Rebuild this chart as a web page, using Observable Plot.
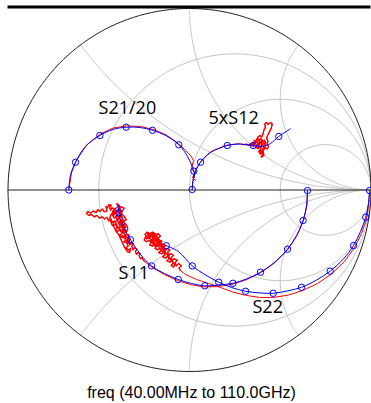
<!DOCTYPE html>
<html><head><meta charset="utf-8">
<script src="https://cdn.jsdelivr.net/npm/d3@7"></script>
<script src="https://cdn.jsdelivr.net/npm/@observablehq/plot@0.6"></script>
<style>body{margin:0;background:#fff}</style>
</head><body><div id="chart"></div>
<script>
// ---- Smith chart grid values ----
const rGrid = [1/3, 1, 3];
const xGrid = [0.5, 1, 2, -0.5, -1, -2];

// ---- S21/20 (model, measured) as [Re, Im] ----
const s21Model = [[-0.665,0.000],[-0.656,0.080],[-0.628,0.153],[-0.573,0.240],[-0.494,0.300],[-0.424,0.333],[-0.349,0.346],[-0.270,0.344],[-0.204,0.329],[-0.127,0.298],[-0.059,0.249],[-0.011,0.185],[0.024,0.104],[0.028,0.069]];
const s21Marks = [0,2,4,6,8,10,12];
const s21Meas = [[-0.663,0.010],[-0.650,0.096],[-0.623,0.163],[-0.567,0.248],[-0.490,0.309],[-0.419,0.342],[-0.347,0.353],[-0.270,0.350],[-0.198,0.333],[-0.127,0.303],[-0.061,0.256],[-0.022,0.218],[0.006,0.190],[0.022,0.163],[0.011,0.118],[0.028,0.096],[0.017,0.069],[0.033,0.052]];

// ---- 5 x S12 ----
const s12Model = [[0.015,0.003],[0.019,0.052],[0.033,0.107],[0.061,0.153],[0.116,0.207],[0.208,0.245],[0.281,0.253],[0.351,0.245],[0.402,0.240],[0.446,0.256],[0.492,0.295],[0.556,0.337]];
const s12Marks = [0,3,5,7,10];
const s12Meas = [[0.015,0.003],[0.020,0.055],[0.035,0.110],[0.062,0.157],[0.115,0.210],[0.205,0.247],[0.27,0.255],
 [0.30,0.250],[0.315,0.252],[0.325,0.245],[0.335,0.255],[0.34,0.243],[0.348,0.262],[0.352,0.238],[0.36,0.258],[0.356,0.275],[0.365,0.262],[0.37,0.282],[0.375,0.255],[0.368,0.235],[0.38,0.228],[0.385,0.25],[0.392,0.232],[0.388,0.205],[0.398,0.218],[0.402,0.195],[0.395,0.18],[0.41,0.19],[0.405,0.215],[0.415,0.228],[0.41,0.25],[0.42,0.26],[0.412,0.275],[0.4,0.268],[0.392,0.285],[0.382,0.27],[0.375,0.29],[0.388,0.30],[0.398,0.292],[0.405,0.31],[0.41,0.33],[0.418,0.345],[0.415,0.365],[0.425,0.372],[0.432,0.36],[0.44,0.368],[0.448,0.372],[0.455,0.365],[0.452,0.345],[0.445,0.33],[0.438,0.315],[0.43,0.3],[0.425,0.285],[0.432,0.27],[0.428,0.252],[0.435,0.24],[0.428,0.225],[0.418,0.235],[0.408,0.24],[0.398,0.252],[0.386,0.262],[0.378,0.245],[0.37,0.232],[0.362,0.245],[0.355,0.255],[0.36,0.268],[0.372,0.265],[0.38,0.258],[0.39,0.268],[0.398,0.245],[0.392,0.225],[0.382,0.212],[0.39,0.198],[0.398,0.205],[0.405,0.228],[0.412,0.242],[0.42,0.248],[0.415,0.262],[0.405,0.258],[0.395,0.262],[0.4,0.275],[0.41,0.27]];
const s12NoiseFrom = 7;

// ---- S11 ----
const s11Model = [[0.650,-0.003],[0.645,-0.085],[0.626,-0.168],[0.590,-0.251],[0.540,-0.326],[0.474,-0.394],[0.391,-0.453],[0.314,-0.490],[0.239,-0.514],[0.160,-0.523],[0.084,-0.528],[0.011,-0.515],[-0.062,-0.493],[-0.138,-0.460],[-0.209,-0.418],[-0.270,-0.355],[-0.325,-0.274],[-0.364,-0.201],[-0.390,-0.126],[-0.390,-0.085]];
const s11Marks = [0,2,4,6,8,10,12,14,16,18];
const s11Meas = [[0.650,-0.003],[0.647,-0.085],[0.628,-0.168],[0.592,-0.251],[0.540,-0.331],[0.468,-0.402],[0.386,-0.460],[0.309,-0.496],[0.231,-0.521],[0.154,-0.532],[0.077,-0.534],[0.006,-0.521],[-0.066,-0.499],[-0.138,-0.466],[-0.204,-0.427],[-0.248,-0.394],
 [-0.255,-0.385],[-0.262,-0.372],[-0.27,-0.378],[-0.278,-0.362],[-0.272,-0.35],[-0.285,-0.345],[-0.292,-0.355],[-0.298,-0.338],[-0.29,-0.325],[-0.305,-0.318],[-0.31,-0.33],[-0.318,-0.31],[-0.308,-0.298],[-0.322,-0.29],[-0.33,-0.302],[-0.335,-0.282],[-0.325,-0.27],[-0.34,-0.262],[-0.332,-0.248],[-0.348,-0.245],[-0.355,-0.258],[-0.36,-0.238],[-0.345,-0.228],[-0.358,-0.215],[-0.368,-0.225],[-0.372,-0.205],[-0.36,-0.195],[-0.375,-0.185],[-0.385,-0.198],[-0.39,-0.178],[-0.378,-0.165],[-0.392,-0.155],[-0.4,-0.168],[-0.405,-0.148],[-0.395,-0.135],[-0.41,-0.125],[-0.418,-0.14],[-0.425,-0.118],[-0.412,-0.105],[-0.428,-0.098],[-0.435,-0.112],[-0.44,-0.092],[-0.43,-0.085],[-0.445,-0.08],[-0.452,-0.1],[-0.46,-0.09],[-0.455,-0.115],[-0.47,-0.12],[-0.48,-0.105],[-0.495,-0.118],[-0.505,-0.108],[-0.515,-0.125],[-0.53,-0.115],[-0.545,-0.128],[-0.56,-0.118],[-0.568,-0.13],[-0.555,-0.14],[-0.54,-0.135],[-0.525,-0.148],[-0.51,-0.14],[-0.495,-0.155],[-0.48,-0.148],[-0.468,-0.16],[-0.455,-0.15],[-0.445,-0.17],[-0.432,-0.16],[-0.425,-0.18],[-0.415,-0.17],[-0.42,-0.195],[-0.405,-0.19],[-0.398,-0.21],[-0.41,-0.22],[-0.395,-0.228],[-0.385,-0.215],[-0.372,-0.24],[-0.385,-0.25],[-0.37,-0.262],[-0.358,-0.25],[-0.35,-0.275],[-0.362,-0.285],[-0.345,-0.292],[-0.338,-0.31],[-0.35,-0.318],[-0.335,-0.33],[-0.325,-0.322],[-0.33,-0.345],[-0.342,-0.34],[-0.352,-0.325],[-0.365,-0.3],[-0.378,-0.272],[-0.39,-0.245],[-0.402,-0.232],[-0.415,-0.205],[-0.428,-0.19],[-0.44,-0.155],[-0.432,-0.135],[-0.418,-0.12],[-0.405,-0.1],[-0.395,-0.09],[-0.4,-0.075],[-0.388,-0.085],[-0.38,-0.11],[-0.388,-0.125],[-0.375,-0.14],[-0.368,-0.16],[-0.38,-0.175],[-0.365,-0.19],[-0.352,-0.205],[-0.365,-0.215],[-0.35,-0.232],[-0.34,-0.215],[-0.345,-0.198],[-0.36,-0.178],[-0.372,-0.152],[-0.385,-0.14],[-0.395,-0.16],[-0.408,-0.175],[-0.4,-0.195],[-0.388,-0.212],[-0.378,-0.23],
 [-0.37,-0.235],[-0.355,-0.22],[-0.368,-0.2],[-0.352,-0.188],[-0.37,-0.17],[-0.385,-0.185],[-0.398,-0.168],[-0.384,-0.15],[-0.402,-0.14],[-0.415,-0.155],[-0.425,-0.135],[-0.41,-0.115],[-0.395,-0.118],[-0.405,-0.128],[-0.388,-0.105],[-0.372,-0.12],[-0.36,-0.1],[-0.378,-0.092],[-0.39,-0.1],[-0.375,-0.13],[-0.36,-0.145],[-0.348,-0.165],[-0.362,-0.17],[-0.375,-0.2],[-0.39,-0.21],[-0.378,-0.22],[-0.36,-0.24],[-0.348,-0.26],[-0.335,-0.275],[-0.322,-0.3],[-0.34,-0.29],[-0.355,-0.27],[-0.37,-0.25]];
const s11NoiseFrom = 15;

// ---- S22 ----
const s22Model = [[0.992,-0.003],[0.986,-0.074],[0.971,-0.150],[0.942,-0.229],[0.904,-0.306],[0.848,-0.380],[0.775,-0.447],[0.700,-0.496],[0.617,-0.536],[0.540,-0.556],[0.461,-0.569],[0.386,-0.567],[0.309,-0.558],[0.231,-0.537],[0.161,-0.508],[0.088,-0.468],[0.015,-0.418],[-0.061,-0.339],[-0.128,-0.307]];
const s22Marks = [0,2,4,6,8,10,12,14,16,18];
const s22Meas = [[0.992,-0.014],[0.986,-0.085],[0.975,-0.163],[0.948,-0.240],[0.909,-0.317],[0.854,-0.394],[0.782,-0.463],[0.705,-0.515],[0.623,-0.554],[0.545,-0.579],[0.463,-0.592],[0.386,-0.592],[0.314,-0.581],[0.237,-0.562],[0.171,-0.537],[0.105,-0.515],[0.039,-0.493],[-0.022,-0.466],
 [-0.05,-0.444],[-0.058,-0.43],[-0.045,-0.418],[-0.06,-0.405],[-0.072,-0.418],[-0.08,-0.4],[-0.068,-0.388],[-0.085,-0.378],[-0.095,-0.392],[-0.1,-0.372],[-0.088,-0.36],[-0.105,-0.35],[-0.115,-0.365],[-0.12,-0.342],[-0.108,-0.33],[-0.125,-0.322],[-0.135,-0.338],[-0.142,-0.318],[-0.13,-0.305],[-0.148,-0.298],[-0.155,-0.312],[-0.165,-0.295],[-0.152,-0.282],[-0.17,-0.275],[-0.178,-0.29],[-0.188,-0.272],[-0.175,-0.262],[-0.192,-0.255],[-0.2,-0.268],[-0.21,-0.25],[-0.198,-0.242],[-0.215,-0.238],[-0.225,-0.252],[-0.232,-0.24],[-0.222,-0.262],[-0.235,-0.27],[-0.242,-0.258],[-0.25,-0.275],[-0.238,-0.285],[-0.225,-0.278],[-0.212,-0.29],[-0.22,-0.302],[-0.205,-0.31],[-0.195,-0.298],[-0.182,-0.31],[-0.19,-0.322],[-0.175,-0.33],[-0.165,-0.318],[-0.158,-0.335],[-0.17,-0.345],[-0.152,-0.352],[-0.142,-0.34],[-0.135,-0.358],[-0.148,-0.368],[-0.13,-0.375],[-0.12,-0.362],[-0.112,-0.38],[-0.125,-0.39],[-0.108,-0.398],[-0.098,-0.385],[-0.09,-0.405],[-0.102,-0.415],[-0.088,-0.425],[-0.08,-0.41],[-0.095,-0.395],[-0.11,-0.372],[-0.128,-0.35],[-0.145,-0.33],[-0.162,-0.308],[-0.18,-0.285],[-0.198,-0.262],[-0.218,-0.248],[-0.205,-0.232],[-0.19,-0.24],[-0.178,-0.25],[-0.185,-0.265],[-0.17,-0.285],[-0.158,-0.3],[-0.172,-0.312],[-0.188,-0.3],[-0.2,-0.285],[-0.215,-0.27],[-0.23,-0.262],[-0.245,-0.245],[-0.235,-0.232],[-0.22,-0.24],
 [-0.21,-0.255],[-0.195,-0.25],[-0.205,-0.275],[-0.185,-0.28],[-0.2,-0.3],[-0.18,-0.298],[-0.165,-0.28],[-0.175,-0.265],[-0.16,-0.255],[-0.172,-0.24],[-0.188,-0.248],[-0.2,-0.235],[-0.215,-0.26],[-0.228,-0.245],[-0.21,-0.285],[-0.19,-0.31],[-0.168,-0.3],[-0.15,-0.315],[-0.16,-0.33],[-0.14,-0.345],[-0.155,-0.29],[-0.17,-0.27]];
const s22NoiseFrom = 18;

// ---- labels ----
const labelRe = [-0.501, 0.105, -0.391, 0.347];
const labelIm = [0.419, 0.366, -0.493, -0.680];
const labelMain = ["S", "5xS", "S", "S"];
const labelSub = ["21", "12", "11", "22"];
const labelTail = ["/20", "", "", ""];
const caption = "freq (40.00MHz to 110.0GHz)";

// ---- grid geometry from grid values ----
function rCircle(r) {
  const c = r / (1 + r), rad = 1 / (1 + r);
  return d3.range(0, 361, 2).map(t => [c + rad * Math.cos(t * Math.PI / 180), rad * Math.sin(t * Math.PI / 180)]);
}
function xArc(x) {
  const rs = [0, ...d3.range(-3, 3.001, 0.02).map(e => 10 ** e)];
  return rs.map(r => {
    const ar = r - 1, br = r + 1, d = br * br + x * x;
    return [(ar * br + x * x) / d, (x * br - ar * x) / d];
  }).concat([[1, 0]]);
}
const gridLines = [...rGrid.map(rCircle), ...xGrid.map(xArc)];
const unitCircle = rCircle(0);

const X = d => d[0], Y = d => d[1];
const blue = "#0000ff", red = "#ff0000";
const pick = (arr, idx) => idx.map(i => arr[i]);

const plot = Plot.plot({
  width: 371, height: 403,
  marginLeft: 7.5, marginRight: 0.5, marginTop: 8, marginBottom: 32,
  x: {domain: [-1, 1], axis: null},
  y: {domain: [-1, 1], axis: null},
  style: {background: "white", overflow: "visible"},
  marks: [
    ...gridLines.map(g => Plot.line(g, {x: X, y: Y, stroke: "#c4c4c4", strokeWidth: 1})),
    Plot.line(unitCircle, {x: X, y: Y, stroke: "#222", strokeWidth: 1}),
    Plot.ruleY([0], {x1: -1, x2: 1, stroke: "#222", strokeWidth: 1}),
    Plot.ruleY([1], {stroke: "#000", strokeWidth: 3, dy: -1.5, ariaLabel: "top-edge"}),
    Plot.line(s21Meas, {x: X, y: Y, stroke: red, strokeWidth: 1}),
    Plot.line(s12Meas, {x: X, y: Y, stroke: red, strokeWidth: 1}),
    Plot.line(s11Meas, {x: X, y: Y, stroke: red, strokeWidth: 1}),
    Plot.line(s22Meas, {x: X, y: Y, stroke: red, strokeWidth: 1}),
    // noisy high-frequency ends of the measured traces drawn a touch heavier
    Plot.line(s12Meas.slice(s12NoiseFrom), {x: X, y: Y, stroke: red, strokeWidth: 1.3}),
    Plot.line(s11Meas.slice(s11NoiseFrom), {x: X, y: Y, stroke: red, strokeWidth: 1.3}),
    Plot.line(s22Meas.slice(s22NoiseFrom), {x: X, y: Y, stroke: red, strokeWidth: 1.3}),
    Plot.line(s21Model, {x: X, y: Y, stroke: blue, strokeWidth: 1, curve: "catmull-rom"}),
    Plot.line(s12Model, {x: X, y: Y, stroke: blue, strokeWidth: 1, curve: "catmull-rom"}),
    Plot.line(s11Model, {x: X, y: Y, stroke: blue, strokeWidth: 1, curve: "catmull-rom"}),
    Plot.line(s22Model, {x: X, y: Y, stroke: blue, strokeWidth: 1, curve: "catmull-rom"}),
    Plot.dot([...pick(s21Model, s21Marks), ...pick(s12Model, s12Marks), ...pick(s11Model, s11Marks), ...pick(s22Model, s22Marks)],
      {x: X, y: Y, r: 3.2, stroke: blue, fill: "none", strokeWidth: 1}),
    Plot.text(d3.range(labelMain.length), {
      x: i => labelRe[i], y: i => labelIm[i], text: i => labelMain[i] + labelSub[i] + labelTail[i],
      textAnchor: "start", lineAnchor: "bottom", fontSize: 18, fontFamily: "Open Sans", fill: "#000", ariaLabel: "labels"
    }),
    Plot.text([caption], {frameAnchor: "bottom", dx: 2, dy: 26, lineAnchor: "bottom", fontSize: 16, fontFamily: "Liberation Sans, Arial, sans-serif", fill: "#000"})
  ]
});

// the top edge spans the whole picture width
plot.querySelectorAll('g[aria-label="top-edge"] line').forEach(l => { l.setAttribute("x1", 0); l.setAttribute("x2", 371); });

// subscripts for labels
const ns = "http://www.w3.org/2000/svg";
plot.querySelectorAll('g[aria-label="labels"] text').forEach(t => {
  const i = d3.range(labelMain.length).find(k => labelMain[k] + labelSub[k] + labelTail[k] === t.textContent);
  if (i == null) return;
  t.textContent = labelMain[i];
  const s = document.createElementNS(ns, "tspan");
  s.setAttribute("dy", "0.22em"); s.textContent = labelSub[i]; t.appendChild(s);
  if (labelTail[i]) {
    const u = document.createElementNS(ns, "tspan");
    u.setAttribute("dy", "-0.22em"); u.textContent = labelTail[i]; t.appendChild(u);
  }
});
document.getElementById("chart").appendChild(plot);
</script></body></html>
